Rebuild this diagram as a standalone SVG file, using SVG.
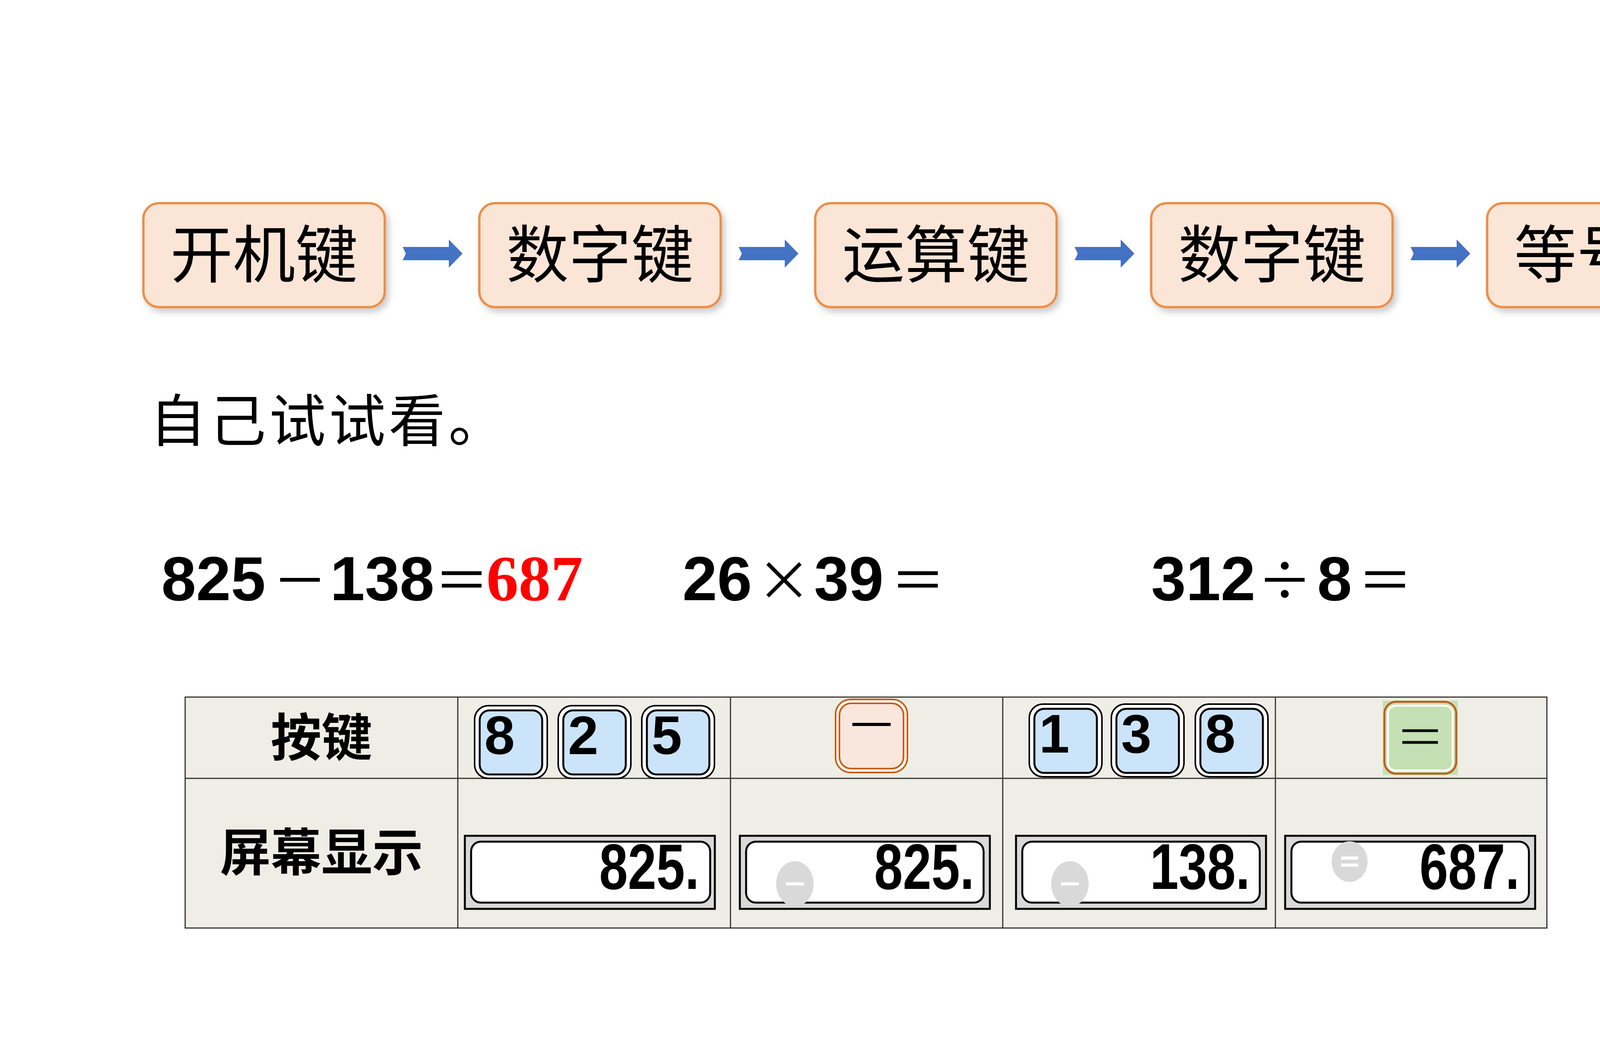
<svg xmlns="http://www.w3.org/2000/svg" width="4799" height="2700" viewBox="0 0 4799 2700">
<defs>
<filter id="sh" x="-10%" y="-10%" width="125%" height="130%"><feDropShadow dx="8" dy="10" stdDeviation="8" flood-color="#000" flood-opacity="0.2"/></filter>
<path id="arr" d="M0,-17 L118,-17 L118,-36 L153,0 L118,36 L118,17 L0,17 L8,0 Z" fill="#4472C4"/>
</defs>
<style>
.step{fill:#FBE5D6;stroke:#ED8F47;stroke-width:6}
.stxt{font-family:"Noto Sans CJK SC",sans-serif;font-size:160px;text-anchor:middle;fill:#000}
.eq{font-family:"Liberation Sans",Arial,sans-serif;font-weight:bold;font-size:160px;fill:#000}
.op{font-family:"Noto Sans CJK SC",sans-serif;font-size:140px}
.cell{fill:#EEEEE6;stroke:#333;stroke-width:3}
.hd{font-family:"Noto Sans CJK SC",sans-serif;font-weight:bold;font-size:130px;text-anchor:middle}
.ko{fill:#fff;stroke:#000;stroke-width:4}
.ki{fill:#CCE4FA;stroke:#000;stroke-width:5}
.kt{font-family:"Liberation Sans",Arial,sans-serif;font-weight:bold;font-size:140px}
.dO{fill:#D9D9D9;stroke:#000;stroke-width:5}
.dI{fill:#fff;stroke:#000;stroke-width:5}
.dt{font-family:"Liberation Sans",Arial,sans-serif;font-weight:bold;font-size:165px;text-anchor:end}
.ind{fill:#D9D9D9}
.dash{stroke:#fff;stroke-width:8}
</style>
<rect width="4799" height="2700" fill="#fff"/>
<g id="n1" filter="url(#sh)"><rect class="step" x="367" y="520" width="618" height="266" rx="40"/><text class="stxt" x="676" y="710">开机键</text></g>
<g id="n2" filter="url(#sh)"><rect class="step" x="1227" y="520" width="618" height="266" rx="40"/><text class="stxt" x="1536" y="710">数字键</text></g>
<g id="n3" filter="url(#sh)"><rect class="step" x="2087" y="520" width="618" height="266" rx="40"/><text class="stxt" x="2396" y="710">运算键</text></g>
<g id="n4" filter="url(#sh)"><rect class="step" x="2947" y="520" width="618" height="266" rx="40"/><text class="stxt" x="3256" y="710">数字键</text></g>
<g id="n5" filter="url(#sh)"><rect class="step" x="3807" y="520" width="618" height="266" rx="40"/><text class="stxt" x="4116" y="710">等号键</text></g>
<g id="connectors">
<use href="#arr" x="1031" y="649"/>
<use href="#arr" x="1891" y="649"/>
<use href="#arr" x="2751" y="649"/>
<use href="#arr" x="3611" y="649"/>
</g>
<text x="383" y="1130" font-family="'Noto Sans CJK SC',sans-serif" font-size="145" letter-spacing="8">自己试试看。</text>
<g id="equations">
<text class="eq" y="1536"><tspan x="413">825</tspan><tspan class="op" x="698" font-weight="normal">－</tspan><tspan x="845">138</tspan><tspan class="op" x="1112" font-weight="normal">＝</tspan></text>
<text x="1245" y="1536" font-family="'Liberation Serif',serif" font-weight="bold" font-size="165" fill="#FF0000">687</text>
<text class="eq" y="1536"><tspan x="1747">26</tspan><tspan class="op" x="1937" font-weight="normal">×</tspan><tspan x="2084">39</tspan><tspan class="op" x="2280" font-weight="normal">＝</tspan></text>
<text class="eq" y="1536"><tspan x="2947">312</tspan><tspan class="op" x="3219" font-weight="normal">÷</tspan><tspan x="3372">8</tspan><tspan class="op" x="3476" font-weight="normal">＝</tspan></text>
</g>
<g id="table">
<rect class="cell" x="474" y="1784" width="3486" height="591"/>
<line x1="474" y1="1992" x2="3960" y2="1992" stroke="#333" stroke-width="3"/>
<line x1="1172" y1="1784" x2="1172" y2="2375" stroke="#333" stroke-width="3"/>
<line x1="1870" y1="1784" x2="1870" y2="2375" stroke="#333" stroke-width="3"/>
<line x1="2567" y1="1784" x2="2567" y2="2375" stroke="#333" stroke-width="3"/>
<line x1="3265" y1="1784" x2="3265" y2="2375" stroke="#333" stroke-width="3"/>
<text class="hd" x="823" y="1934">按键</text>
<text class="hd" x="823" y="2228">屏幕显示</text>
</g>
<g id="keys">
<g><rect class="ko" x="1215" y="1806" width="186" height="186" rx="35"/><rect class="ki" x="1228" y="1818" width="160" height="164" rx="25"/><text class="kt" x="1240" y="1930">8</text></g>
<g><rect class="ko" x="1429" y="1806" width="186" height="186" rx="35"/><rect class="ki" x="1442" y="1818" width="160" height="164" rx="25"/><text class="kt" x="1454" y="1930">2</text></g>
<g><rect class="ko" x="1643" y="1806" width="186" height="186" rx="35"/><rect class="ki" x="1656" y="1818" width="160" height="164" rx="25"/><text class="kt" x="1668" y="1930">5</text></g>
<g><rect x="2139" y="1790" width="184" height="187" rx="38" fill="#FFF6EE" stroke="#C55A11" stroke-width="4"/><rect x="2149" y="1800" width="164" height="167" rx="30" fill="#F9E6DC" stroke="#C55A11" stroke-width="4"/><line x1="2182" y1="1854" x2="2280" y2="1854" stroke="#000" stroke-width="8"/></g>
<g><rect class="ko" x="2635" y="1802" width="186" height="186" rx="35"/><rect class="ki" x="2648" y="1814" width="160" height="164" rx="25"/><text class="kt" x="2660" y="1926">1</text></g>
<g><rect class="ko" x="2845" y="1802" width="186" height="186" rx="35"/><rect class="ki" x="2858" y="1814" width="160" height="164" rx="25"/><text class="kt" x="2870" y="1926">3</text></g>
<g><rect class="ko" x="3060" y="1802" width="186" height="186" rx="35"/><rect class="ki" x="3073" y="1814" width="160" height="164" rx="25"/><text class="kt" x="3085" y="1926">8</text></g>
<g><rect x="3540" y="1793" width="192" height="190" fill="#C5E0B4"/><rect x="3544" y="1796" width="184" height="184" rx="30" fill="none" stroke="#C55A11" stroke-width="5"/><rect x="3553" y="1806" width="166" height="166" rx="20" fill="#C5E0B4" stroke="#fff" stroke-width="5"/><line x1="3590" y1="1870" x2="3681" y2="1870" stroke="#000" stroke-width="7"/><line x1="3590" y1="1900" x2="3681" y2="1900" stroke="#000" stroke-width="7"/></g>
</g>
<g id="displays">
<g><rect class="dO" x="1190" y="2139" width="640" height="187"/><rect class="dI" x="1206" y="2154" width="612" height="156" rx="25"/><text class="dt" x="1790" y="2275" textLength="256" lengthAdjust="spacingAndGlyphs">825.</text></g>
<g><rect class="dO" x="1894" y="2139" width="640" height="187"/><rect class="dI" x="1910" y="2154" width="608" height="156" rx="25"/><ellipse class="ind" cx="2035" cy="2262" rx="48" ry="58"/><line class="dash" x1="2012" y1="2262" x2="2058" y2="2262"/><text class="dt" x="2494" y="2275" textLength="256" lengthAdjust="spacingAndGlyphs">825.</text></g>
<g><rect class="dO" x="2601" y="2139" width="640" height="187"/><rect class="dI" x="2617" y="2154" width="608" height="156" rx="25"/><ellipse class="ind" cx="2739" cy="2262" rx="48" ry="58"/><line class="dash" x1="2716" y1="2262" x2="2762" y2="2262"/><text class="dt" x="3200" y="2275" textLength="256" lengthAdjust="spacingAndGlyphs">138.</text></g>
<g><rect class="dO" x="3290" y="2139" width="640" height="187"/><rect class="dI" x="3306" y="2154" width="608" height="156" rx="25"/><ellipse class="ind" cx="3455" cy="2205" rx="46" ry="52"/><line class="dash" x1="3433" y1="2196" x2="3477" y2="2196"/><line class="dash" x1="3433" y1="2214" x2="3477" y2="2214"/><text class="dt" x="3890" y="2275" textLength="256" lengthAdjust="spacingAndGlyphs">687.</text></g>
</g>
</svg>
